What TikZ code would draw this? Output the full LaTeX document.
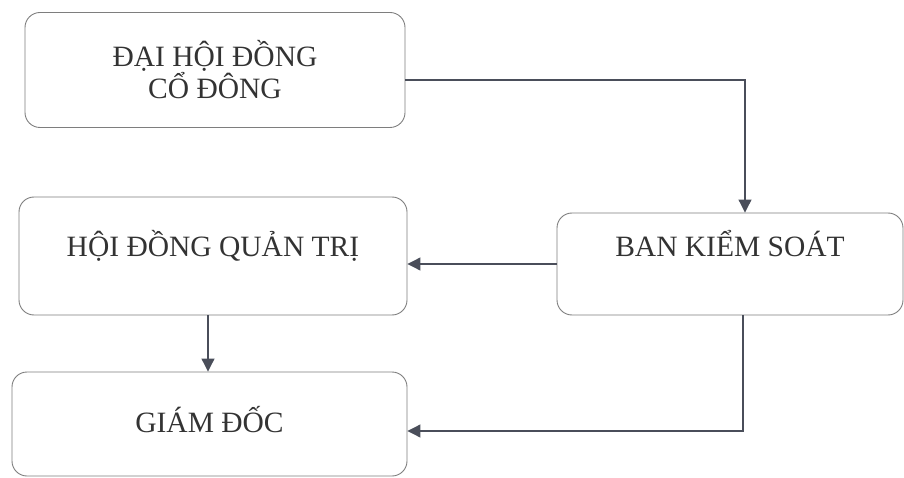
\documentclass[tikz,border=0pt]{standalone}
\usepackage{fontspec}
\setmainfont{Liberation Serif}
\usetikzlibrary{arrows.meta}
\definecolor{boxline}{HTML}{7E7E7E}
\definecolor{conn}{HTML}{4A4E5A}
\definecolor{txt}{HTML}{333333}
\tikzset{
  orgbox/.style={draw=boxline, line width=0.9pt, rounded corners=15pt, align=center,
    text=txt, font=\fontsize{29.5}{30}\selectfont, inner sep=0pt},
  conarrow/.style={draw=conn, line width=1.1pt, -{Triangle[length=13pt,width=13pt]}}
}
\begin{document}
\begin{tikzpicture}[x=1pt,y=-1pt]
\useasboundingbox (0,0) rectangle (904,478);
\node[orgbox, minimum width=380pt, minimum height=115pt] (b1) at (215,70) {ĐẠI HỘI ĐỒNG\\CỔ ĐÔNG};
\node[orgbox, minimum width=388pt, minimum height=118pt, text height=20pt, text depth=18pt] (b2) at (213,256) {HỘI ĐỒNG QUẢN TRỊ};
\node[orgbox, minimum width=395pt, minimum height=104pt, text height=20pt, text depth=4pt] (b3) at (209.5,424) {GIÁM ĐỐC};
\node[orgbox, minimum width=346pt, minimum height=102pt, text height=20pt, text depth=34pt] (b4) at (730,264) {BAN KIỂM SOÁT};
\draw[conarrow] ([yshift=-10pt]b1.east) -| ([xshift=15pt]b4.north);
\draw[conarrow] (b4.west) -- (b4.west -| b2.east);
\draw[conarrow] ([xshift=-5pt]b2.south) -- ([xshift=-5pt]b2.south |- b3.north);
\draw[conarrow] ([xshift=13pt]b4.south) |- ([yshift=-7pt]b3.east);
\end{tikzpicture}
\end{document}
